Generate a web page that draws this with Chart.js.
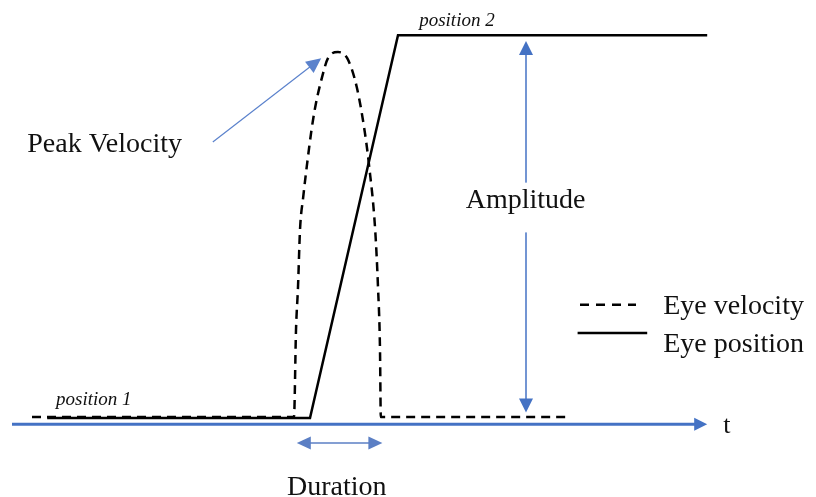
<!DOCTYPE html>
<html lang="en">
<head>
<meta charset="UTF-8" />
<title>Saccade</title>
<script src="https://cdn.jsdelivr.net/npm/chart.js"></script>
<style>
  body { margin: 0; background: #fff; }
  canvas { display: block; }
</style>
</head>
<body>
<canvas id="saccadeChart" width="816" height="497"></canvas>
<script>
// time in arbitrary units, amplitude: position 1 = 0, position 2 = 10
const velocityT = [4, 36.75, 37, 37.25, 37.5, 37.9, 38.4, 38.9, 39.4, 40.25, 41, 42.25, 43.4, 44.6, 45.6, 46.1, 46.9, 47.25, 47.5, 47.6, 71.25];
const velocityY = [0.03, 0.03, 2.3, 3.42, 4.91, 5.77, 6.66, 7.47, 8.12, 8.9, 9.4, 9.56, 9.4, 8.64, 7.47, 6.66, 4.91, 3.42, 1.78, 0.03, 0.03];

const positionT = [5.9, 38.75, 49.75, 88.4];
const positionY = [0, 0, 10, 10];

const seriesLabels = ['Eye velocity', 'Eye position'];

const BLUE = '#4472C4';
const SERIF = '"Liberation Serif", "Times New Roman", serif';

function toPoints(xs, ys) {
  return xs.map((x, i) => ({ x: x, y: ys[i] }));
}

function arrowHead(ctx, x1, y1, x2, y2, len, half) {
  const a = Math.atan2(y2 - y1, x2 - x1);
  ctx.beginPath();
  ctx.moveTo(x2, y2);
  ctx.lineTo(x2 - len * Math.cos(a) + half * Math.sin(a), y2 - len * Math.sin(a) - half * Math.cos(a));
  ctx.lineTo(x2 - len * Math.cos(a) - half * Math.sin(a), y2 - len * Math.sin(a) + half * Math.cos(a));
  ctx.closePath();
  ctx.fill();
}

function arrow(ctx, x1, y1, x2, y2, opts) {
  const a = Math.atan2(y2 - y1, x2 - x1);
  const len = opts.len, half = opts.half;
  ctx.save();
  ctx.strokeStyle = opts.color;
  ctx.fillStyle = opts.color;
  ctx.lineWidth = opts.width;
  ctx.beginPath();
  const sx = opts.both ? x1 + (len - 1) * Math.cos(a) : x1;
  const sy = opts.both ? y1 + (len - 1) * Math.sin(a) : y1;
  ctx.moveTo(sx, sy);
  ctx.lineTo(x2 - (len - 1) * Math.cos(a), y2 - (len - 1) * Math.sin(a));
  ctx.stroke();
  arrowHead(ctx, x1, y1, x2, y2, len, half);
  if (opts.both) arrowHead(ctx, x2, y2, x1, y1, len, half);
  ctx.restore();
}

function text(ctx, s, x, y, font, align) {
  ctx.save();
  ctx.font = font;
  ctx.fillStyle = '#111';
  ctx.textAlign = align || 'left';
  ctx.textBaseline = 'alphabetic';
  ctx.fillText(s, x, y);
  ctx.restore();
}

const annotations = {
  id: 'annotations',
  afterDatasetsDraw(chart) {
    const ctx = chart.ctx;
    const X = v => chart.scales.x.getPixelForValue(v);
    const Y = v => chart.scales.y.getPixelForValue(v);

    // time axis
    arrow(ctx, X(1.5), Y(-0.16), X(88.4), Y(-0.16), { color: BLUE, width: 3, len: 13, half: 6.5 });
    text(ctx, 't', X(90.4), Y(-0.4), '26px ' + SERIF);

    // amplitude
    arrow(ctx, X(65.75), Y(0.15), X(65.75), Y(9.85), { color: BLUE, width: 1.5, len: 14, half: 7, both: true });
    ctx.save();
    ctx.fillStyle = '#fff';
    ctx.fillRect(X(57.5), Y(6.15), X(74) - X(57.5), Y(4.85) - Y(6.15));
    ctx.restore();
    text(ctx, 'Amplitude', X(65.7), Y(5.48), '28px ' + SERIF, 'center');

    // peak velocity
    arrow(ctx, X(26.6), Y(7.21), X(40.15), Y(9.4), { color: '#5b82cc', width: 1.2, len: 15, half: 7 });
    text(ctx, 'Peak Velocity', X(3.4), Y(6.94), '28px ' + SERIF);

    // duration
    arrow(ctx, X(37.1), Y(-0.65), X(47.8), Y(-0.65), { color: '#5b7fc4', width: 1.5, len: 14, half: 6.5, both: true });
    text(ctx, 'Duration', X(42.1), Y(-2.0), '28px ' + SERIF, 'center');

    // position labels
    text(ctx, 'position 1', X(7.0), Y(0.34), 'italic 19px ' + SERIF);
    text(ctx, 'position 2', X(52.4), Y(10.25), 'italic 19px ' + SERIF);

    // legend
    ctx.save();
    ctx.strokeStyle = '#000';
    ctx.lineWidth = 2.5;
    ctx.setLineDash([9, 7]);
    ctx.beginPath();
    ctx.moveTo(X(72.5), Y(2.96));
    ctx.lineTo(X(79.5), Y(2.96));
    ctx.stroke();
    ctx.setLineDash([]);
    ctx.beginPath();
    ctx.moveTo(X(72.2), Y(2.22));
    ctx.lineTo(X(80.9), Y(2.22));
    ctx.stroke();
    ctx.restore();
    text(ctx, seriesLabels[0], X(82.9), Y(2.73), '28px ' + SERIF);
    text(ctx, seriesLabels[1], X(82.9), Y(1.73), '28px ' + SERIF);
  }
};

new Chart(document.getElementById('saccadeChart').getContext('2d'), {
  type: 'scatter',
  data: {
    datasets: [
      {
        label: seriesLabels[0],
        data: toPoints(velocityT, velocityY),
        showLine: true,
        borderColor: '#000',
        borderWidth: 2.5,
        borderDash: [9, 6],
        pointRadius: 0,
        cubicInterpolationMode: 'monotone'
      },
      {
        label: seriesLabels[1],
        data: toPoints(positionT, positionY),
        showLine: true,
        borderColor: '#000',
        borderWidth: 2.5,
        pointRadius: 0,
        tension: 0
      }
    ]
  },
  options: {
    responsive: false,
    animation: false,
    layout: { padding: 0 },
    plugins: {
      legend: { display: false },
      tooltip: { enabled: false }
    },
    scales: {
      x: { type: 'linear', min: 0, max: 102, display: false },
      y: { type: 'linear', min: -2.06, max: 10.92, display: false }
    }
  },
  plugins: [annotations]
});
</script>
</body>
</html>
